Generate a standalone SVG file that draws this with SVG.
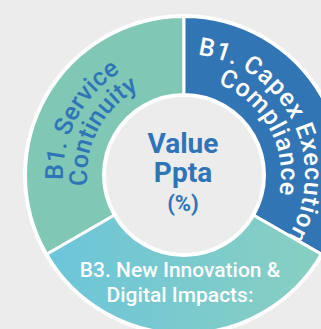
<svg xmlns="http://www.w3.org/2000/svg" width="321" height="329" viewBox="0 0 321 329">
  <defs>
    <linearGradient id="gB3" gradientUnits="userSpaceOnUse" x1="46" y1="0" x2="321" y2="0">
      <stop offset="0" stop-color="#6cc5da"/>
      <stop offset="1" stop-color="#88cfc1"/>
    </linearGradient>
    <path id="arcG1" d="M109.51,270.35 A121,121 0 0 1 221.39,59.92"/>
    <path id="arcG2" d="M124.28,251.44 A97,97 0 0 1 213.97,82.75"/>
    <path id="arcB1" d="M150.65,58.69 A121,121 0 0 1 255.12,272.89"/>
    <path id="arcB2" d="M152.42,83.28 A97,97 0 0 1 245.04,250.38"/>
  </defs>
  <style>
    .seg { stroke: #ffffff; stroke-width: 3; }
    .arc { font-family: Roboto, "Liberation Sans", sans-serif; font-weight: 500; font-size: 25px; }
    .lbl { font-family: Roboto, "Liberation Sans", sans-serif; font-weight: 500; font-size: 21px; fill: #ffffff; text-anchor: middle; }
    .ctr { font-family: Roboto, "Liberation Sans", sans-serif; font-weight: 700; fill: #2f74b6; text-anchor: middle; }
  </style>
  <rect x="0" y="0" width="321" height="329" fill="#ececec"/>
  <circle cx="184" cy="175" r="161" fill="#ffffff"/>
  <g id="connectors"/>
  <g id="seg-service">
    <path class="seg" fill="#80c8b5" d="M46.73,254.25 A158.5,158.5 0 0 1 184,16.5 L184,94.5 A80.5,80.5 0 0 0 114.28,215.25 Z"/>
    <text class="arc" fill="#2f74b6" letter-spacing="0.2"><textPath href="#arcG1" startOffset="50%" text-anchor="middle">B1. Service</textPath></text>
    <text class="arc" fill="#2f74b6" letter-spacing="0.2"><textPath href="#arcG2" startOffset="50%" text-anchor="middle">Continuity</textPath></text>
  </g>
  <g id="seg-capex">
    <path class="seg" fill="#3275b5" d="M184,16.5 A158.5,158.5 0 0 1 321.27,254.25 L253.72,215.25 A80.5,80.5 0 0 0 184,94.5 Z"/>
    <text class="arc" fill="#ffffff" letter-spacing="0.7"><textPath href="#arcB1" startOffset="50%" text-anchor="middle">B1. Capex Execution</textPath></text>
    <text class="arc" fill="#ffffff" letter-spacing="0.5"><textPath href="#arcB2" startOffset="50%" text-anchor="middle">Compliance</textPath></text>
  </g>
  <g id="seg-innovation">
    <path class="seg" fill="url(#gB3)" d="M321.27,254.25 A158.5,158.5 0 0 1 46.73,254.25 L114.28,215.25 A80.5,80.5 0 0 0 253.72,215.25 Z"/>
    <text class="lbl" x="180" y="277">B3. New Innovation &amp;</text>
    <text class="lbl" x="180" y="302">Digital Impacts:</text>
  </g>
  <g id="center">
    <circle cx="184" cy="175" r="78" fill="#ececec"/>
    <text class="ctr" x="183" y="153" font-size="28">Value</text>
    <text class="ctr" x="183" y="182" font-size="28">Ppta</text>
    <text class="ctr" x="183" y="211" font-size="22">(%)</text>
  </g>
</svg>
